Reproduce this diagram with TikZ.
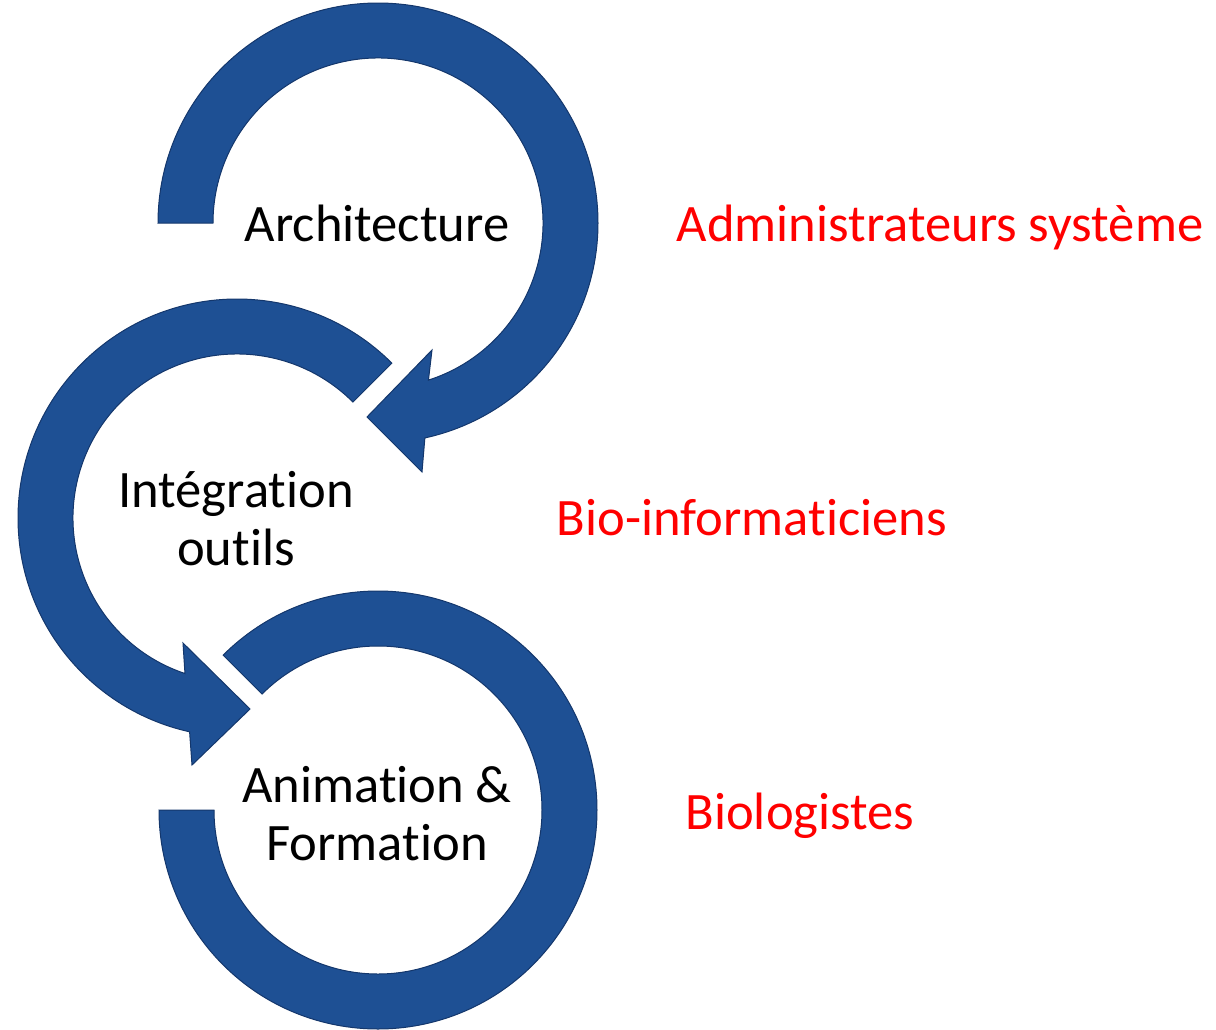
\documentclass[tikz,border=0pt]{standalone}
\usepackage{fontspec}
\setmainfont{Carlito}[Ligatures=NoCommon]
\usetikzlibrary{calc}
\definecolor{arrowblue}{RGB}{30,80,148}
\definecolor{arrowedge}{RGB}{20,55,108}
\definecolor{labelred}{RGB}{255,0,0}
\tikzset{
  cyclearrow/.style={fill=arrowblue, draw=arrowedge, line width=0.5pt, line join=miter},
  steptext/.style={font=\fontsize{26.3}{29}\selectfont, text=black, align=center, inner sep=0pt},
  roletext/.style={font=\fontsize{26.3}{29}\selectfont, text=labelred, inner sep=0pt}
}
\begin{document}
\begin{tikzpicture}[x=0.5pt,y=0.5pt]
\useasboundingbox (0,0) rectangle (1216,-1029);
\coordinate (C1) at (378,-223);
\coordinate (C2) at (237,-518);
\coordinate (C3) at (378,-810);
% circle 1: Architecture
\path[cyclearrow] ($(C1)+(180:220)$) arc[start angle=180, end angle=-77.7, radius=220]
  -- (422,-472) -- (367,-417) -- (432,-350)
  -- ($(C1)+(-72.2:165)$) arc[start angle=-72.2, end angle=180, radius=165] -- cycle;
% circle 2: Integration
\path[cyclearrow] ($(C2)+(45:219)$) arc[start angle=45, end angle=257.5, radius=219]
  -- (192,-765) -- (250,-709) -- (183,-643)
  -- ($(C2)+(251.5:164)$) arc[start angle=251.5, end angle=45, radius=164] -- cycle;
% circle 3: Animation
\path[cyclearrow] ($(C3)+(135:219)$) arc[start angle=135, end angle=-180, radius=219]
  -- ($(C3)+(180:164)$) arc[start angle=-180, end angle=135, radius=164] -- cycle;
% texts
\node[steptext, anchor=base] (arch) at (377,-241) {Architecture};
\node[steptext, anchor=base] (integ) at (236,-565) {Intégration\\outils};
\node[steptext, anchor=base] (anim) at (377,-860) {Animation \&\\Formation};
\node[roletext, anchor=base] (admin) at (940,-241) {Administrateurs système};
\node[roletext, anchor=base] (bioinf) at (752,-535) {Bio-informaticiens};
\node[roletext, anchor=base] (biol) at (800,-829) {Biologistes};
\end{tikzpicture}
\end{document}
